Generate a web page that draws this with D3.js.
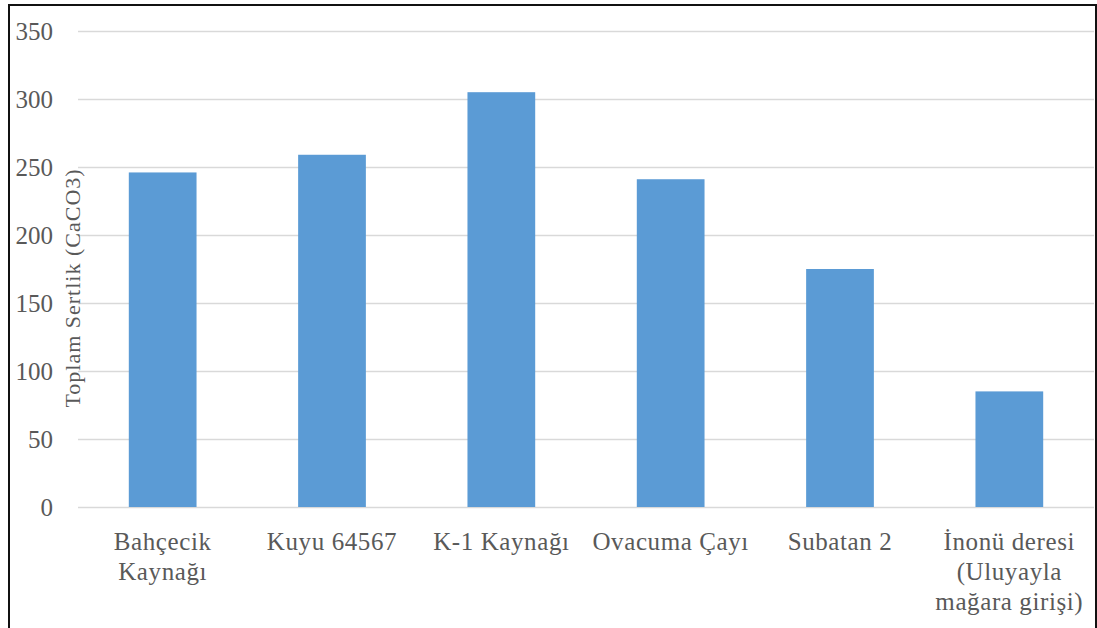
<!DOCTYPE html>
<html>
<head>
<meta charset="utf-8">
<script src="https://cdn.jsdelivr.net/npm/d3@7"></script>
<style>
  body { margin: 0; background: #fff; }
  svg text { font-family: "Liberation Serif", "Times New Roman", serif; fill: #595959; }
</style>
</head>
<body>
<div id="chart"></div>
<script>
// data
var categories = ["Bahçecik Kaynağı", "Kuyu 64567", "K-1 Kaynağı", "Ovacuma Çayı", "Subatan 2", "İnonü deresi (Uluyayla mağara girişi)"];
var labelLines = [
  ["Bahçecik", "Kaynağı"],
  ["Kuyu 64567"],
  ["K-1 Kaynağı"],
  ["Ovacuma Çayı"],
  ["Subatan 2"],
  ["İnonü deresi", "(Uluyayla", "mağara girişi)"]
];
var hardness = [246, 259, 305, 241, 175, 85];
var yTicks = [0, 50, 100, 150, 200, 250, 300, 350];
var yTitle = "Toplam Sertlik (CaCO3)";

(function () {
  'use strict'

  var W = 1097, H = 628;
  var margin = {top: 31, right: 3, bottom: 121, left: 78},
      width = W - margin.left - margin.right,
      height = H - margin.top - margin.bottom;

  var svg0 = d3.select("#chart").append("svg")
      .attr("width", W)
      .attr("height", H);

  // frame round the chart (bottom edge falls outside the picture)
  svg0.append("rect")
      .attr("x", 9).attr("y", 5)
      .attr("width", 1087).attr("height", 700)
      .attr("fill", "none")
      .attr("stroke", "#111")
      .attr("stroke-width", 2);

  var svg = svg0.append("g")
      .attr("transform", "translate(" + margin.left + "," + margin.top + ")");

  var x = d3.scaleBand().domain(categories).range([0, width]).paddingInner(0.6).paddingOuter(0.3);
  var y = d3.scaleLinear().domain([0, 350]).range([height, 0]);

  // gridlines
  svg.append("g")
    .selectAll("line")
    .data(yTicks)
    .enter().append("line")
    .attr("x1", 0)
    .attr("x2", width)
    .attr("y1", function(d) { return Math.round(y(d)) + 0.5; })
    .attr("y2", function(d) { return Math.round(y(d)) + 0.5; })
    .attr("stroke", "#d9d9d9")
    .attr("stroke-width", 1.5);

  // bars
  svg.selectAll(".bar")
    .data(hardness)
    .enter().append("rect")
    .attr("class", "bar")
    .attr("x", function(d, i) { return x(categories[i]); })
    .attr("width", x.bandwidth())
    .attr("y", function(d) { return y(d); })
    .attr("height", function(d) { return y(0) - y(d); })
    .attr("fill", "#5b9bd5");

  // y axis labels
  var yAxis = svg.append("g")
    .call(d3.axisLeft(y).tickValues(yTicks).tickSize(0).tickPadding(25));
  yAxis.select(".domain").remove();
  yAxis.selectAll("text")
    .attr("font-size", "25px")
    .style("font-family", "'Liberation Serif', serif")
    .attr("fill", "#595959");

  // category labels
  var xl = svg.append("g").selectAll("text")
    .data(categories)
    .enter().append("text")
    .attr("text-anchor", "middle")
    .attr("font-size", "25px")
    .attr("letter-spacing", "0.6px")
    .attr("transform", function(d) {
      return "translate(" + (x(d) + x.bandwidth() / 2) + "," + (height + 43) + ")";
    });
  xl.selectAll("tspan")
    .data(function(d, i) { return labelLines[i]; })
    .enter().append("tspan")
    .attr("x", 0)
    .attr("y", function(d, j) { return j * 30; })
    .text(function(d) { return d; });

  // axis title
  svg0.append("text")
    .attr("transform", "translate(80,288) rotate(-90)")
    .attr("text-anchor", "middle")
    .attr("font-size", "22px")
    .attr("letter-spacing", "1px")
    .text(yTitle);
})()
</script>
</body>
</html>
